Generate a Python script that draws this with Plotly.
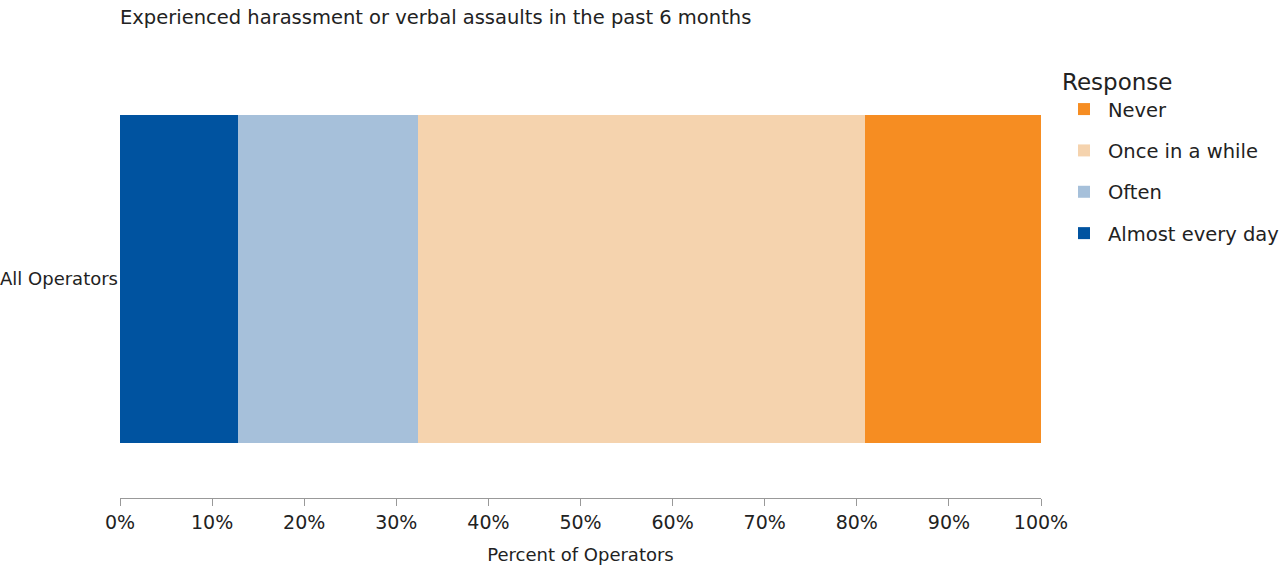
import plotly.graph_objects as go

# Share of operators by response, stacked left to right
group = ["All Operators"]
responses = ["Almost every day", "Often", "Once in a while", "Never"]
shares = [12.8, 19.6, 48.5, 19.1]
colors = ["#0053A0", "#A6C0DA", "#F5D3AE", "#F68D22"]
legend_ranks = [4, 3, 2, 1]

tick_vals = [0, 10, 20, 30, 40, 50, 60, 70, 80, 90, 100]
tick_text = [f"{v}%" for v in tick_vals]

fig = go.Figure()
for name, val, col, rank in zip(responses, shares, colors, legend_ranks):
    fig.add_trace(go.Bar(
        y=group, x=[val], name=name, orientation="h",
        marker=dict(color=col, line=dict(width=0)),
        width=0.75, legendgroup=name, legendrank=rank,
    ))

fig.update_layout(
    barmode="stack",
    width=1281, height=565,
    margin=dict(l=120, r=240, t=60, b=67, autoexpand=False),
    paper_bgcolor="white", plot_bgcolor="white",
    font=dict(family="DejaVu Sans", size=18, color="#222222"),
    title=dict(
        text="Experienced harassment or verbal assaults in the past 6 months",
        x=120 / 1281, xanchor="left", y=1 - 17 / 565, yanchor="middle",
        font=dict(family="DejaVu Sans", size=19.5, color="#222222"),
    ),
    legend=dict(
        title=dict(text="Response", font=dict(size=23)),
        traceorder="grouped", tracegroupgap=13,
        font=dict(size=19.5), itemwidth=38,
        xref="container", yref="container",
        x=1060 / 1281, xanchor="left", y=1 - 60 / 565, yanchor="top",
    ),
    showlegend=True,
)
fig.update_xaxes(
    range=[0, 100], tickvals=tick_vals, ticktext=tick_text,
    tickfont=dict(size=19),
    showgrid=False, zeroline=False, automargin=False,
    showline=True, linecolor="#999999", linewidth=1,
    ticks="outside", ticklen=7, tickcolor="#999999",
    title=dict(text="Percent of Operators", font=dict(size=18), standoff=22),
)
fig.update_yaxes(
    showgrid=False, zeroline=False, showline=False, automargin=False,
    ticks="", ticklabelstandoff=1,
)

fig.write_html("out.html")
